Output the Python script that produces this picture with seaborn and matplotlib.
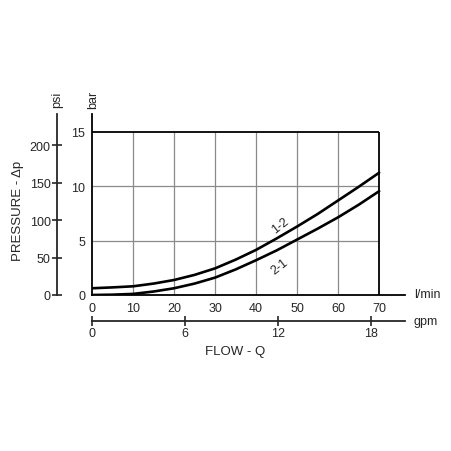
import numpy as np
import pandas as pd
import seaborn as sns
import matplotlib.pyplot as plt

# flow in l/min, pressure drop in bar
flow = [0, 5, 10, 15, 20, 25, 30, 35, 40, 45, 50, 55, 60, 65, 70]
dp_12 = [0.62, 0.7, 0.8, 1.05, 1.38, 1.85, 2.45, 3.25, 4.15, 5.2, 6.3, 7.45, 8.7, 9.95, 11.25]
dp_21 = [0.0, 0.03, 0.1, 0.32, 0.62, 1.05, 1.6, 2.35, 3.2, 4.1, 5.1, 6.1, 7.15, 8.3, 9.55]

bar_ticks = [0, 5, 10, 15]
lpm_ticks = [0, 10, 20, 30, 40, 50, 60, 70]
psi_ticks = [0, 50, 100, 150, 200]
gpm_ticks = [0, 6, 12, 18]

df = pd.DataFrame({
    "flow": flow * 2,
    "dp": dp_12 + dp_21,
    "curve": ["1-2"] * len(flow) + ["2-1"] * len(flow),
})

sns.set_style("white")
plt.rcParams["font.family"] = ["Liberation Sans", "DejaVu Sans"]
fs = 9

fig = plt.figure(figsize=(4.52, 4.52), dpi=100)
ax = fig.add_axes([92 / 452, 1 - 296 / 452, 313 / 452, 181 / 452])

sns.lineplot(data=df, x="flow", y="dp", hue="curve", palette=["black", "black"],
             linewidth=1.9, legend=False, ax=ax)

ax.set_xlim(0, 76.3)
ax.set_ylim(0, 16.65)

# grid and frame of the 0-70 / 0-15 box
ax.vlines(lpm_ticks[1:-1], 0, 15, color="#8a8a8a", linewidth=0.9, zorder=0)
ax.hlines(bar_ticks[1:-1], 0, 70, color="#8a8a8a", linewidth=0.9, zorder=0)
ax.hlines(15, 0, 70, color="black", linewidth=1.3)
ax.vlines(70, 0, 15, color="black", linewidth=1.3)

for s in ["top", "right"]:
    ax.spines[s].set_visible(False)
for s in ["left", "bottom"]:
    ax.spines[s].set_color("black")
    ax.spines[s].set_linewidth(1.3)

ax.set_xticks(lpm_ticks)
ax.set_yticks(bar_ticks)
ax.tick_params(axis="both", direction="out", length=4, width=1.2, color="black",
               labelsize=fs, pad=1)
ax.set_xlabel("")
ax.set_ylabel("")

# curve labels
ax.text(46, 6.45, "1-2", rotation=38, ha="center", va="center", fontsize=fs)
ax.text(45.8, 2.7, "2-1", rotation=38, ha="center", va="center", fontsize=fs)

# psi axis
psi = ax.secondary_yaxis(-35 / 313, functions=(lambda b: b * 14.5038, lambda p: p / 14.5038))
psi.set_yticks(psi_ticks)
psi.tick_params(direction="inout", length=7, width=1.2, labelsize=fs, pad=1)
psi.spines["left"].set_linewidth(1.3)

# gpm axis
gpm = ax.secondary_xaxis(-25.7 / 181, functions=(lambda q: q / 3.785, lambda g: g * 3.785))
gpm.set_xticks(gpm_ticks)
gpm.tick_params(direction="inout", length=7, width=1.2, labelsize=fs, pad=1)
gpm.spines["bottom"].set_linewidth(1.3)

# axis captions
fig.text(57 / 452, 1 - 100 / 452, "psi", rotation=90, ha="center", va="center", fontsize=fs)
fig.text(93 / 452, 1 - 100 / 452, "bar", rotation=90, ha="center", va="center", fontsize=fs)
fig.text(18 / 452, 1 - 211 / 452, "PRESSURE - \u0394p", rotation=90, ha="center", va="center", fontsize=fs + 0.5)
fig.text(414 / 452, 1 - 295 / 452, "l/min", ha="left", va="center", fontsize=fs)
fig.text(414 / 452, 1 - 322 / 452, "gpm", ha="left", va="center", fontsize=fs)
fig.text(235 / 452, 1 - 352 / 452, "FLOW - Q", ha="center", va="center", fontsize=fs + 0.5)

fig.savefig("out.png", dpi=100)
